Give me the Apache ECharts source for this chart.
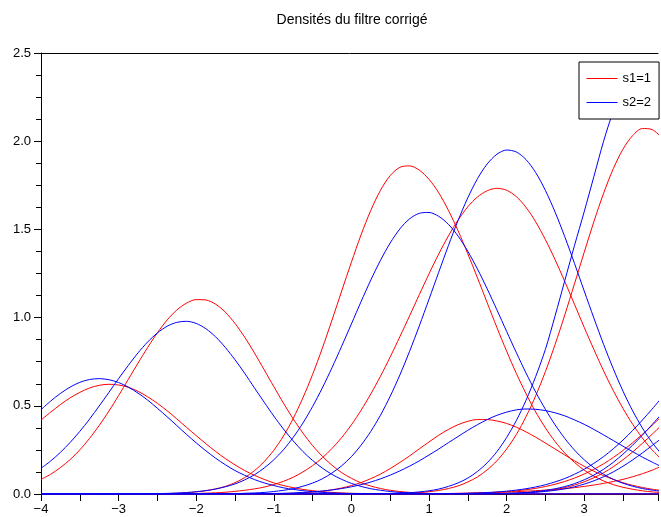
<!DOCTYPE html>
<html><head><meta charset="utf-8">
<script src="https://cdn.jsdelivr.net/npm/echarts@6/dist/echarts.min.js"></script>
<style>html,body{margin:0;padding:0;background:#fff}#c{width:661px;height:517px}</style>
</head><body><div id="c"></div>
<script>
// x sample positions (step 0.125)
const xs = [-4,-3.875,-3.75,-3.625,-3.5,-3.375,-3.25,-3.125,-3,-2.875,-2.75,-2.625,-2.5,-2.375,-2.25,-2.125,-2,-1.875,-1.75,-1.625,-1.5,-1.375,-1.25,-1.125,-1,-0.875,-0.75,-0.625,-0.5,-0.375,-0.25,-0.125,0,0.125,0.25,0.375,0.5,0.625,0.75,0.875,1,1.125,1.25,1.375,1.5,1.625,1.75,1.875,2,2.125,2.25,2.375,2.5,2.625,2.75,2.875,3,3.125,3.25,3.375,3.5,3.625,3.75,3.875,4];

// s1=1 (red) densities
const r1 = [0.419,0.464,0.507,0.545,0.576,0.601,0.616,0.622,0.618,0.605,0.582,0.551,0.514,0.472,0.426,0.378,0.331,0.285,0.241,0.201,0.165,0.133,0.106,0.083,0.063,0.048,0.036,0.026,0.019,0.013,0.009,0.006,0.004,0.003,0.002,0.001,0.001,0.0005,0,0,0,0,0,0,0,0,0,0,0,0,0,0,0,0,0,0,0,0,0,0,0,0,0,0,0];
const r2 = [0.083,0.112,0.150,0.195,0.250,0.315,0.388,0.470,0.558,0.650,0.742,0.831,0.914,0.986,1.043,1.082,1.102,1.100,1.076,1.031,0.967,0.889,0.800,0.705,0.609,0.515,0.426,0.346,0.274,0.214,0.163,0.121,0.089,0.063,0.045,0.031,0.021,0.014,0.009,0.006,0.003,0.002,0.001,0.0007,0.0004,0.0002,0,0,0,0,0,0,0,0,0,0,0,0,0,0,0,0,0,0,0];
const r3 = [0,0,0,0,0,0,0,0,0.0001,0.0003,0.0005,0.0009,0.0015,0.0026,0.004,0.007,0.012,0.019,0.029,0.043,0.064,0.093,0.132,0.183,0.248,0.329,0.428,0.545,0.678,0.826,0.986,1.151,1.314,1.470,1.608,1.722,1.805,1.852,1.860,1.836,1.784,1.708,1.608,1.492,1.362,1.225,1.084,0.944,0.810,0.684,0.569,0.465,0.375,0.297,0.232,0.179,0.135,0.101,0.074,0.053,0.038,0.027,0.018,0.012,0.008];
const r4 = [0,0,0,0,0,0,0,0,0.0001,0.0002,0.0003,0.0004,0.0006,0.0009,0.0014,0.0021,0.003,0.0047,0.007,0.010,0.015,0.021,0.029,0.039,0.054,0.072,0.095,0.125,0.161,0.205,0.258,0.320,0.392,0.475,0.567,0.668,0.777,0.892,1.010,1.130,1.248,1.360,1.463,1.553,1.628,1.684,1.719,1.733,1.722,1.686,1.625,1.543,1.442,1.328,1.204,1.075,0.945,0.819,0.698,0.586,0.485,0.395,0.317,0.250,0.195];
const r5 = [0,0,0,0,0,0,0,0,0,0,0,0,0,0,0,0,0,0,0,0,0,0,0,0,0,0,0,0,0,0,0,0,0.0002,0.0003,0.0006,0.001,0.002,0.003,0.005,0.008,0.013,0.020,0.031,0.046,0.068,0.097,0.137,0.188,0.255,0.337,0.438,0.557,0.694,0.848,1.015,1.192,1.370,1.544,1.705,1.844,1.955,2.032,2.072,2.066,2.020];
const r6 = [0,0,0,0,0,0,0,0,0,0,0,0,0,0,0,0,0,0,0,0,0.0002,0.0004,0.0006,0.001,0.002,0.003,0.004,0.007,0.011,0.016,0.024,0.034,0.048,0.065,0.087,0.113,0.144,0.179,0.216,0.256,0.295,0.333,0.366,0.393,0.412,0.422,0.422,0.414,0.400,0.379,0.352,0.322,0.289,0.255,0.221,0.188,0.157,0.129,0.104,0.083,0.064,0.049,0.037,0.027,0.020];
const r7 = [0,0,0,0,0,0,0,0,0,0,0,0,0,0,0,0,0,0,0,0,0,0,0,0,0,0,0,0,0,0,0,0,0,0,0,0,0,0,0,0,0.0007,0.001,0.0015,0.0023,0.0033,0.0047,0.0067,0.0095,0.013,0.0179,0.0242,0.0322,0.0424,0.0553,0.071,0.0903,0.1134,0.1403,0.1714,0.2071,0.247,0.2911,0.3385,0.3889,0.441];
const r8 = [0,0,0,0,0,0,0,0,0,0,0,0,0,0,0,0,0,0,0,0,0,0,0,0,0,0,0,0,0,0,0,0,0,0,0,0,0,0,0,0,0,0,0,0,0.0004,0.0007,0.0011,0.002,0.0033,0.0051,0.0078,0.0119,0.0178,0.0256,0.0363,0.0506,0.0692,0.0923,0.1206,0.1547,0.1943,0.2386,0.2871,0.3386,0.3911];
const r9 = [0,0,0,0,0,0,0,0,0,0,0,0,0,0,0,0,0,0,0,0,0,0,0,0,0,0,0,0,0,0,0,0,0,0,0,0,0,0,0,0,0.002,0.0025,0.003,0.004,0.005,0.0065,0.008,0.0095,0.011,0.0135,0.016,0.019,0.022,0.026,0.030,0.036,0.043,0.051,0.060,0.071,0.083,0.098,0.115,0.135,0.158];

// s2=2 (blue) densities
const b1 = [0.478,0.527,0.570,0.606,0.633,0.649,0.654,0.648,0.632,0.606,0.572,0.532,0.486,0.438,0.388,0.338,0.290,0.245,0.203,0.166,0.133,0.106,0.082,0.063,0.048,0.035,0.026,0.019,0.013,0.009,0.006,0.004,0.003,0.002,0.001,0.0008,0.0005,0.0003,0,0,0,0,0,0,0,0,0,0,0,0,0,0,0,0,0,0,0,0,0,0,0,0,0,0,0];
const b2 = [0.146,0.187,0.236,0.292,0.355,0.424,0.499,0.576,0.654,0.729,0.800,0.862,0.913,0.951,0.973,0.979,0.967,0.937,0.891,0.831,0.761,0.684,0.602,0.521,0.442,0.368,0.301,0.241,0.190,0.147,0.111,0.083,0.060,0.043,0.030,0.021,0.014,0.009,0.006,0.004,0.002,0.0015,0.001,0.0005,0.0003,0.0002,0,0,0,0,0,0,0,0,0,0,0,0,0,0,0,0,0,0,0];
const b3 = [0,0,0,0,0,0,0,0,0.0003,0.0005,0.001,0.0014,0.002,0.0035,0.0055,0.0085,0.013,0.019,0.028,0.041,0.057,0.080,0.109,0.147,0.194,0.251,0.321,0.402,0.496,0.601,0.716,0.838,0.964,1.091,1.213,1.325,1.423,1.503,1.560,1.591,1.596,1.574,1.529,1.462,1.376,1.275,1.163,1.044,0.922,0.802,0.686,0.578,0.480,0.392,0.315,0.249,0.194,0.149,0.112,0.083,0.061,0.044,0.031,0.022,0.015];
const b4 = [0,0,0,0,0,0,0,0,0,0,0,0,0,0,0.0001,0.0002,0.0003,0.0005,0.001,0.0014,0.002,0.004,0.006,0.009,0.014,0.021,0.030,0.044,0.062,0.086,0.119,0.160,0.212,0.277,0.355,0.447,0.554,0.675,0.809,0.953,1.104,1.257,1.408,1.551,1.679,1.788,1.871,1.926,1.950,1.939,1.896,1.822,1.721,1.598,1.458,1.307,1.151,0.997,0.848,0.710,0.583,0.471,0.374,0.292,0.224];
const b5 = [0,0,0,0,0,0,0,0,0,0,0,0,0,0,0,0,0,0,0,0,0,0,0,0,0,0,0,0,0,0,0,0,0,0.0005,0.001,0.0016,0.003,0.0045,0.007,0.012,0.018,0.028,0.043,0.063,0.090,0.128,0.177,0.240,0.320,0.416,0.531,0.666,0.820,1.010,1.210,1.409,1.600,1.800,2.000,2.170,2.300,2.370,2.410,2.425,2.430];
const b6 = [0,0,0,0,0,0,0,0,0,0,0,0,0,0,0,0,0,0,0,0,0.0005,0.0008,0.0013,0.002,0.003,0.004,0.006,0.009,0.012,0.017,0.023,0.031,0.041,0.053,0.068,0.086,0.107,0.131,0.158,0.188,0.221,0.255,0.291,0.326,0.361,0.393,0.422,0.446,0.464,0.477,0.482,0.480,0.473,0.460,0.443,0.420,0.395,0.366,0.335,0.303,0.271,0.240,0.209,0.181,0.154];
const b7 = [0,0,0,0,0,0,0,0,0,0,0,0,0,0,0,0,0,0,0,0,0,0,0,0,0,0,0,0,0,0,0,0,0,0,0,0,0,0,0,0,0.0008,0.0012,0.0019,0.0028,0.0041,0.0059,0.0083,0.0117,0.0161,0.0222,0.0299,0.0399,0.0525,0.0685,0.0879,0.1118,0.1404,0.1737,0.2122,0.2564,0.3058,0.3604,0.4191,0.4815,0.546];
const b8 = [0,0,0,0,0,0,0,0,0,0,0,0,0,0,0,0,0,0,0,0,0,0,0,0,0,0,0,0,0,0,0,0,0,0,0,0,0,0,0,0,0,0,0,0,0.0004,0.0008,0.0013,0.0023,0.0039,0.0059,0.009,0.0138,0.0206,0.0297,0.0421,0.0588,0.0804,0.1072,0.1402,0.1797,0.2258,0.2773,0.3337,0.3935,0.4545];
const b9 = [0,0,0,0,0,0,0,0,0,0,0,0,0,0,0,0,0,0,0,0,0,0,0,0,0,0,0,0,0,0,0,0,0,0,0,0,0,0,0,0,0,0,0,0,0.0003,0.0006,0.0009,0.0016,0.0027,0.0041,0.0063,0.0096,0.0144,0.0207,0.0294,0.041,0.0561,0.0748,0.0978,0.1254,0.1575,0.1934,0.2328,0.2745,0.3171];

const titleText = 'Densités du filtre corrigé';
const nameRed = 's1=1', nameBlue = 's2=2';
const RED = '#ff0000', BLUE = '#0000ff';
const FONT = '"Liberation Sans", Arial, sans-serif';

function mk(arr, name, color) {
  return {
    type: 'line', name: name,
    data: xs.map((x, i) => [x, arr[i]]),
    showSymbol: false, symbol: 'none', smooth: 0.3, clip: true, silent: true,
    color: color,
    lineStyle: { color: color, width: 1 }, itemStyle: { color: color },
    emphasis: { disabled: true }
  };
}
const reds = [r1, r2, r3, r4, r5, r6, r7, r8, r9];
const blues = [b1, b2, b3, b4, b5, b6, b7, b8, b9];
const series = [];
reds.forEach(a => series.push(mk(a, nameRed, RED)));
blues.forEach(a => series.push(mk(a, nameBlue, BLUE)));

const chart = echarts.init(document.getElementById('c'), null, { renderer: 'canvas' });
chart.setOption({
  animation: false,
  backgroundColor: '#fff',
  color: [RED, BLUE],
  textStyle: { fontFamily: FONT },
  title: {
    text: titleText, left: 352, top: 13, textAlign: 'center', padding: 0,
    textStyle: { fontSize: 14, fontWeight: 'normal', color: '#000', fontFamily: FONT }
  },
  legend: {
    data: [nameRed, nameBlue],
    orient: 'vertical', left: 579, top: 62,
    padding: [10, 8, 10, 7], itemGap: 11, itemWidth: 31, itemHeight: 2,
    itemStyle: { opacity: 0 },
    lineStyle: { width: 1 },
    backgroundColor: '#fff', borderColor: '#000', borderWidth: 1, borderRadius: 0,
    selectedMode: false,
    textStyle: { fontSize: 13, color: '#000', fontFamily: FONT }
  },
  grid: { left: 41, top: 53, width: 621, height: 441, containLabel: false },
  xAxis: [{
    type: 'value', min: -4, max: 3.951, interval: 0.5, position: 'bottom',
    axisLine: { show: true, onZero: false, lineStyle: { color: '#000', width: 1 } },
    axisTick: { show: true, length: 7, lineStyle: { color: '#000' } },
    splitLine: { show: false },
    axisLabel: {
      color: '#000', fontSize: 13, margin: 9, fontFamily: FONT,
      formatter: function (v) {
        if (Math.abs(v - Math.round(v)) > 1e-9) return '';
        return v < 0 ? '\u2212' + Math.abs(v) : String(v);
      }
    }
  }, {
    type: 'value', min: -4, max: 3.951, position: 'top',
    axisLine: { show: true, onZero: false, lineStyle: { color: '#000', width: 1 } },
    axisTick: { show: false }, axisLabel: { show: false }, splitLine: { show: false }
  }],
  yAxis: {
    type: 'value', min: 0, max: 2.5, interval: 0.5,
    axisLine: { show: true, onZero: false, lineStyle: { color: '#000', width: 1 } },
    axisTick: { show: true, length: 7, lineStyle: { color: '#000' } },
    minorTick: { show: true, splitNumber: 4, length: 5, lineStyle: { color: '#000' } },
    splitLine: { show: false }, minorSplitLine: { show: false },
    axisLabel: { color: '#000', fontSize: 13, margin: 10, fontFamily: FONT, formatter: v => v.toFixed(1) }
  },
  series: series
});
</script></body></html>
